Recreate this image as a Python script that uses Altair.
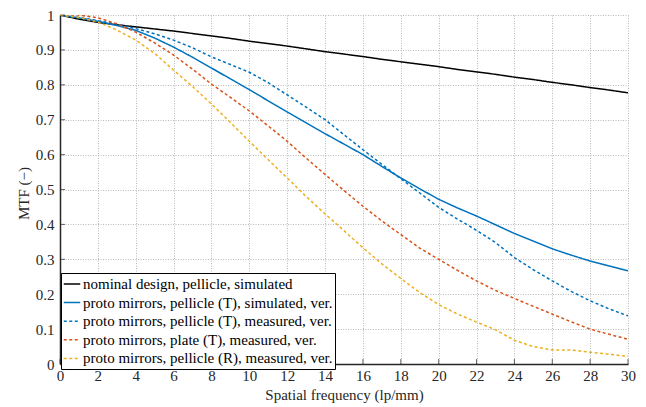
import altair as alt
import pandas as pd

freq = list(range(0, 31))

nominal = [1.0, 0.988, 0.979, 0.972, 0.966, 0.960, 0.954, 0.947, 0.940, 0.933, 0.925,
           0.918, 0.911, 0.903, 0.895, 0.888, 0.881, 0.873, 0.866, 0.859, 0.852,
           0.844, 0.837, 0.830, 0.822, 0.815, 0.807, 0.800, 0.792, 0.785, 0.777]
proto_sim = [1.0, 0.992, 0.982, 0.970, 0.956, 0.934, 0.908, 0.879, 0.848, 0.817, 0.786,
             0.754, 0.722, 0.691, 0.660, 0.630, 0.600, 0.566, 0.533, 0.502, 0.472,
             0.447, 0.424, 0.399, 0.374, 0.352, 0.330, 0.312, 0.295, 0.281, 0.267]
proto_meas = [1.0, 0.993, 0.984, 0.974, 0.961, 0.946, 0.928, 0.906, 0.880, 0.858, 0.836,
              0.806, 0.771, 0.736, 0.700, 0.657, 0.614, 0.572, 0.531, 0.490, 0.449,
              0.415, 0.383, 0.348, 0.305, 0.270, 0.238, 0.208, 0.181, 0.158, 0.138]
plate_meas = [1.0, 1.0, 0.992, 0.975, 0.951, 0.920, 0.885, 0.845, 0.802, 0.764, 0.725,
              0.682, 0.638, 0.590, 0.543, 0.497, 0.452, 0.410, 0.371, 0.332, 0.300,
              0.268, 0.238, 0.211, 0.188, 0.165, 0.143, 0.121, 0.100, 0.085, 0.071]
refl_meas = [1.0, 0.993, 0.980, 0.957, 0.928, 0.890, 0.842, 0.795, 0.745, 0.692, 0.638,
             0.585, 0.533, 0.480, 0.430, 0.382, 0.333, 0.287, 0.245, 0.205, 0.170,
             0.143, 0.120, 0.098, 0.068, 0.050, 0.040, 0.040, 0.034, 0.028, 0.022]

labels = [
    "nominal design, pellicle, simulated",
    "proto mirrors, pellicle (T), simulated, ver.",
    "proto mirrors, pellicle (T), measured, ver.",
    "proto mirrors, plate (T), measured, ver.",
    "proto mirrors, pellicle (R), measured, ver.",
]
series = [nominal, proto_sim, proto_meas, plate_meas, refl_meas]
colors = ["#000000", "#0072BD", "#0072BD", "#D95319", "#EDB120"]
dashes = [[1, 0], [1, 0], [3, 2.5], [3, 2.5], [3, 2.5]]

x_ticks = list(range(0, 31, 2))
y_ticks = [0, 0.1, 0.2, 0.3, 0.4, 0.5, 0.6, 0.7, 0.8, 0.9, 1.0]

rows = []
for i, (lab, vals) in enumerate(zip(labels, series)):
    for f, v in zip(freq, vals):
        rows.append({"freq": f, "mtf": v, "series": lab, "order": i})
df = pd.DataFrame(rows)

W, H = 568, 349
FONT = "Liberation Serif, Times New Roman, serif"
AX = "#262626"
FS = 15

xscale = alt.Scale(domain=[0, 30], nice=False, zero=False)
yscale = alt.Scale(domain=[0, 1], nice=False)

xaxis = alt.Axis(values=x_ticks, labelOverlap=False, labelFlush=False,
                 title="Spatial frequency (lp/mm)",
                 titleY=35, titleBaseline="alphabetic")
yaxis = alt.Axis(values=y_ticks, labelOverlap=False, labelFlush=False, format="~g",
                 title="MTF (\u2212)",
                 titleX=-37, titleY=178, titleAngle=270,
                 titleAlign="center", titleBaseline="middle")

leg = alt.Legend(
    orient="none", legendX=1, legendY=258,
    symbolType="stroke", symbolSize=272, symbolStrokeWidth=1.5,
    labelFont=FONT, labelFontSize=FS, labelColor="#000000", labelLimit=500,
    labelOffset=2, padding=2, rowPadding=1.6,
    strokeColor="#000000", fillColor="#ffffff", cornerRadius=0,
)

lines = alt.Chart(df).mark_line(strokeWidth=1.5, clip=True).encode(
    x=alt.X("freq:Q", scale=xscale, axis=xaxis),
    y=alt.Y("mtf:Q", scale=yscale, axis=yaxis),
    color=alt.Color("series:N", scale=alt.Scale(domain=labels, range=colors),
                    sort=labels, title=None, legend=leg),
    strokeDash=alt.StrokeDash("series:N", scale=alt.Scale(domain=labels, range=dashes),
                              sort=labels, title=None, legend=leg),
    detail="series:N",
    order="order:Q",
)

xt = alt.Chart(pd.DataFrame({"freq": x_ticks})).mark_tick(
    color=AX, thickness=1, size=5).encode(
    x=alt.X("freq:Q", scale=xscale, axis=xaxis), y=alt.value(H - 2.5))
yt = alt.Chart(pd.DataFrame({"mtf": y_ticks})).mark_tick(
    color=AX, thickness=1, size=5).encode(
    y=alt.Y("mtf:Q", scale=yscale, axis=yaxis), x=alt.value(2.5))

chart = alt.layer(lines, xt, yt).properties(
    width=W, height=H,
    autosize=alt.AutoSizeParams(type="none"),
    padding={"left": 52, "top": 7, "right": 10, "bottom": 40},
).configure_view(stroke=None).configure_axis(
    labelFont=FONT, labelFontSize=FS, labelColor=AX,
    titleFont=FONT, titleFontSize=FS, titleColor=AX, titleFontWeight="normal",
    domainColor=AX, domainWidth=1.5, ticks=False,
    gridColor="#b8b8b8", gridDash=[1, 1.5], gridWidth=1,
).configure_axisX(labelPadding=4).configure_axisY(labelPadding=6)

chart.save("out.html", embed_options={"renderer": "svg", "actions": False})
